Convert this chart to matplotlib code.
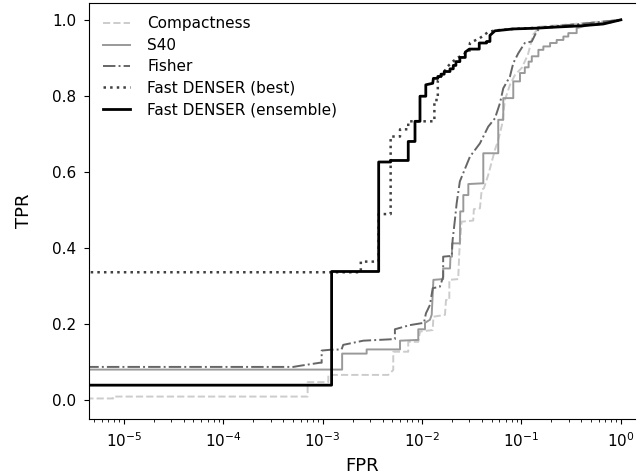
import matplotlib
matplotlib.use("Agg")
import matplotlib.pyplot as plt

# ROC curves (FPR on a log scale, TPR linear)
compact_fpr = [1e-6, 7.8e-6, 7.8e-6, 7.06e-4, 7.06e-4, 1.14e-3, 1.14e-3, 4.57e-3, 5.13e-3, 5.13e-3,
               7.26e-3, 7.26e-3, 9.16e-3, 9.53e-3, 1.28e-2, 1.30e-2, 1.70e-2, 1.74e-2, 1.88e-2, 1.88e-2,
               2.31e-2, 2.37e-2, 2.50e-2, 3.27e-2, 3.32e-2, 3.82e-2, 3.98e-2, 4.19e-2, 4.63e-2, 5.41e-2,
               5.84e-2, 6.37e-2, 6.82e-2, 7.66e-2, 8.60e-2, 0.101, 0.116, 0.131, 0.153, 0.30, 1.0]
compact_tpr = [0.004, 0.004, 0.009, 0.009, 0.047, 0.047, 0.066, 0.066, 0.079, 0.127,
               0.127, 0.153, 0.153, 0.180, 0.184, 0.219, 0.224, 0.263, 0.263, 0.316,
               0.318, 0.390, 0.469, 0.472, 0.502, 0.504, 0.553, 0.557, 0.592, 0.658,
               0.684, 0.724, 0.789, 0.829, 0.855, 0.874, 0.908, 0.961, 0.982, 0.988, 1.0]

s40_fpr = [1e-6, 1.57e-3, 1.57e-3, 2.77e-3, 2.77e-3, 6.00e-3, 6.00e-3, 9.16e-3, 9.16e-3, 1.07e-2,
           1.07e-2, 1.20e-2, 1.25e-2, 1.30e-2, 1.63e-2, 1.63e-2, 1.91e-2, 1.93e-2, 2.00e-2, 2.00e-2,
           2.40e-2, 2.42e-2, 2.60e-2, 2.60e-2, 2.92e-2, 2.92e-2, 4.13e-2, 4.13e-2, 5.84e-2, 5.84e-2,
           6.56e-2, 6.56e-2, 8.27e-2, 8.27e-2, 9.66e-2, 9.66e-2, 0.108, 0.108, 0.118, 0.118,
           0.127, 0.127, 0.148, 0.148, 0.166, 0.166, 0.194, 0.194, 0.226, 0.226,
           0.264, 0.264, 0.296, 0.296, 0.359, 0.359, 0.489, 1.0]
s40_tpr = [0.080, 0.080, 0.122, 0.122, 0.133, 0.133, 0.156, 0.158, 0.186, 0.186,
           0.203, 0.211, 0.224, 0.316, 0.318, 0.346, 0.346, 0.377, 0.377, 0.412,
           0.412, 0.496, 0.496, 0.539, 0.539, 0.568, 0.570, 0.649, 0.649, 0.737,
           0.737, 0.794, 0.794, 0.838, 0.838, 0.860, 0.860, 0.875, 0.875, 0.890,
           0.890, 0.904, 0.904, 0.921, 0.921, 0.930, 0.930, 0.939, 0.939, 0.947,
           0.947, 0.956, 0.956, 0.965, 0.965, 0.978, 0.987, 1.0]

fisher_fpr = [1e-6, 5.06e-4, 5.91e-4, 9.39e-4, 9.77e-4, 9.77e-4, 1.18e-3, 1.55e-3, 1.61e-3, 2.56e-3,
              5.13e-3, 5.33e-3, 5.33e-3, 7.55e-3, 1.045e-2, 1.094e-2, 1.20e-2, 1.28e-2, 1.51e-2, 1.63e-2,
              1.63e-2, 1.99e-2, 2.03e-2, 2.14e-2, 2.23e-2, 2.40e-2, 3.03e-2, 3.82e-2, 4.63e-2, 5.41e-2,
              6.08e-2, 6.56e-2, 7.66e-2, 8.27e-2, 9.29e-2, 0.108, 0.127, 0.142, 0.153, 0.226,
              0.388, 1.0]
fisher_tpr = [0.087, 0.087, 0.090, 0.098, 0.098, 0.130, 0.132, 0.133, 0.145, 0.156,
              0.160, 0.160, 0.186, 0.197, 0.203, 0.228, 0.250, 0.294, 0.298, 0.324,
              0.377, 0.379, 0.421, 0.474, 0.518, 0.575, 0.640, 0.675, 0.719, 0.741,
              0.781, 0.820, 0.851, 0.886, 0.912, 0.939, 0.943, 0.969, 0.978, 0.984,
              0.989, 1.0]

best_fpr = [1e-6, 2.42e-3, 2.42e-3, 3.66e-3, 3.66e-3, 4.83e-3, 4.83e-3, 6.00e-3, 6.00e-3, 7.26e-3,
            7.26e-3, 1.33e-2, 1.33e-2, 1.44e-2, 1.44e-2, 1.63e-2, 1.77e-2, 2.03e-2, 2.31e-2, 2.85e-2,
            2.99e-2, 3.03e-2, 3.82e-2, 4.63e-2, 5.41e-2, 8.27e-2, 0.142, 0.226, 0.388, 0.665,
            1.0]
best_tpr = [0.336, 0.336, 0.364, 0.364, 0.489, 0.489, 0.693, 0.693, 0.712, 0.712,
            0.733, 0.733, 0.789, 0.789, 0.840, 0.858, 0.875, 0.890, 0.901, 0.915,
            0.915, 0.939, 0.952, 0.968, 0.972, 0.976, 0.979, 0.982, 0.985, 0.990,
            1.0]

ens_fpr = [1e-6, 1.23e-3, 1.23e-3, 3.66e-3, 3.66e-3, 4.83e-3, 4.83e-3, 7.26e-3, 7.26e-3, 8.49e-3,
           8.49e-3, 9.53e-3, 9.53e-3, 1.09e-2, 1.09e-2, 1.28e-2, 1.30e-2, 1.44e-2, 1.44e-2, 1.55e-2,
           1.55e-2, 1.67e-2, 1.67e-2, 1.91e-2, 1.91e-2, 2.06e-2, 2.06e-2, 2.19e-2, 2.19e-2, 2.40e-2,
           2.40e-2, 2.72e-2, 2.72e-2, 2.99e-2, 3.76e-2, 3.76e-2, 4.46e-2, 4.46e-2, 4.82e-2, 4.82e-2,
           5.41e-2, 8.27e-2, 0.142, 0.226, 0.388, 0.665, 1.0]
ens_tpr = [0.039, 0.039, 0.338, 0.338, 0.626, 0.626, 0.630, 0.630, 0.680, 0.680,
           0.733, 0.733, 0.799, 0.799, 0.829, 0.833, 0.846, 0.846, 0.851, 0.851,
           0.857, 0.857, 0.864, 0.864, 0.871, 0.871, 0.880, 0.880, 0.890, 0.890,
           0.901, 0.901, 0.915, 0.923, 0.923, 0.939, 0.939, 0.943, 0.943, 0.959,
           0.971, 0.976, 0.978, 0.981, 0.984, 0.989, 1.0]

labels = ["Compactness", "S40", "Fisher", "Fast DENSER (best)", "Fast DENSER (ensemble)"]
colors = ["0.8", "0.6", "0.4", "0.25", "black"]
styles = ["--", "-", "-.", ":", "-"]
widths = [1.4, 1.4, 1.4, 1.8, 2.0]

plt.rcParams["font.size"] = 11

fig = plt.figure(figsize=(6.4, 4.76), dpi=100)
ax = fig.add_axes([89 / 640, 57 / 476, 546 / 640, 416.3 / 476])

curves = [(compact_fpr, compact_tpr), (s40_fpr, s40_tpr), (fisher_fpr, fisher_tpr),
          (best_fpr, best_tpr), (ens_fpr, ens_tpr)]
for (x, y), lab, c, ls, lw in zip(curves, labels, colors, styles, widths):
    ax.plot(x, y, color=c, linestyle=ls, linewidth=lw, label=lab)

ax.set_xscale("log")
ax.set_xlim(4.46e-6, 1.387)
ax.set_ylim(-0.05, 1.045)
ax.set_yticks([0.0, 0.2, 0.4, 0.6, 0.8, 1.0])
ax.tick_params(axis="both", which="major", labelsize=11, pad=5.5)
ax.set_xlabel("FPR", fontsize=13, labelpad=5)
ax.set_ylabel("TPR", fontsize=13, labelpad=14)
ax.spines["right"].set_visible(False)
ax.legend(loc="upper left", frameon=False, fontsize=11,
          handlelength=1.8, handletextpad=1.1, labelspacing=0.42)

fig.savefig("out.png", dpi=100)
